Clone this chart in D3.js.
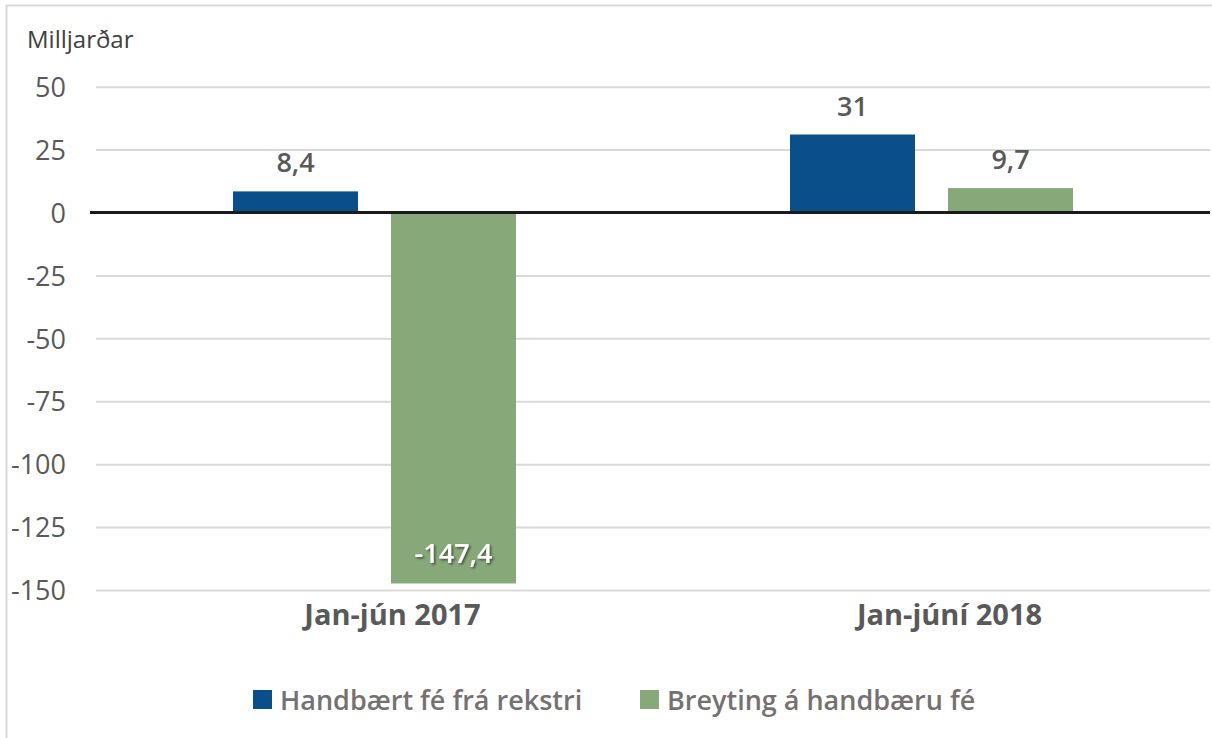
<!DOCTYPE html>
<html>
<head>
<meta charset="utf-8">
<script src="https://cdn.jsdelivr.net/npm/d3@7"></script>
<style>
  body { margin: 0; background: #fff; }
  text { font-family: "Open Sans", "Noto Sans", sans-serif; }
</style>
</head>
<body>
<svg id="chart" width="1212" height="738"></svg>
<script>
// chart values
var categories = ["Jan-jún 2017", "Jan-júní 2018"];
var seriesNames = ["Handbært fé frá rekstri", "Breyting á handbæru fé"];
var rekstur = [8.4, 31];
var breyting = [-147.4, 9.7];
var yTicks = [50, 25, 0, -25, -50, -75, -100, -125, -150];
var colors = ["#0b4f8a", "#87a878"];

var svg = d3.select("#chart");

// outer frame
svg.append("rect")
    .attr("x", 6.5).attr("y", 5.5)
    .attr("width", 1220).attr("height", 760)
    .attr("fill", "none")
    .attr("stroke", "#d9d9d9")
    .attr("stroke-width", 2);

var left = 96, right = 1210;
var y = d3.scaleLinear().domain([-150, 50]).range([590, 86.7]);
var x = d3.scaleBand().domain(categories).range([left, right]);
var xs = d3.scaleBand().domain(seriesNames).range([0, x.bandwidth()])
    .paddingInner(0.209).paddingOuter(0.867);

var fmt = function(v) { return String(v).replace(".", ","); };

// gridlines
svg.append("g")
    .attr("transform", "translate(" + left + ",0)")
    .call(d3.axisLeft(y).tickValues(yTicks).tickSize(-(right - left)).tickFormat(""))
    .call(function(g) {
        g.select(".domain").remove();
        g.selectAll("line").attr("stroke", "#d9d9d9").attr("stroke-width", 2);
    });

// tick labels
svg.append("g")
    .attr("transform", "translate(66,0)")
    .call(d3.axisLeft(y).tickValues(yTicks).tickSize(0).tickPadding(0)
        .tickFormat(function(d) { return String(d); }))
    .call(function(g) {
        g.select(".domain").remove();
        g.selectAll("text")
            .attr("fill", "#595959")
            .attr("font-size", "27px")
            .attr("dy", "0.36em");
    });

svg.append("text")
    .attr("x", 27).attr("y", 48)
    .attr("fill", "#404040")
    .attr("font-size", "24px")
    .text("Milljarðar");

var rows = categories.map(function(c, i) {
    return [
        {cat: c, name: seriesNames[0], value: rekstur[i], color: colors[0]},
        {cat: c, name: seriesNames[1], value: breyting[i], color: colors[1]}
    ];
});
var flat = [].concat.apply([], rows);

var g = svg.append("g");

g.selectAll(".bar")
    .data(flat)
    .enter().append("rect")
    .attr("class", "bar")
    .attr("x", function(d) { return x(d.cat) + xs(d.name); })
    .attr("width", xs.bandwidth())
    .attr("y", function(d) { return y(Math.max(0, d.value)); })
    .attr("height", function(d) { return Math.abs(y(d.value) - y(0)); })
    .attr("fill", function(d) { return d.color; });

// shadow filter for label inside bar
var defs = svg.append("defs");
var f = defs.append("filter").attr("id", "shadow").attr("x", "-20%").attr("y", "-20%").attr("width", "140%").attr("height", "140%");
f.append("feDropShadow").attr("dx", 1.5).attr("dy", 1.5).attr("stdDeviation", 1.2)
    .attr("flood-color", "#000").attr("flood-opacity", 0.55);

g.selectAll(".val")
    .data(flat)
    .enter().append("text")
    .attr("class", "val")
    .attr("text-anchor", "middle")
    .attr("x", function(d) { return x(d.cat) + xs(d.name) + xs.bandwidth() / 2; })
    .attr("y", function(d) { return d.value >= 0 ? y(d.value) - 19 : y(d.value) - 20; })
    .attr("font-size", "27px")
    .attr("font-weight", 600)
    .attr("fill", function(d) { return d.value >= 0 ? "#595959" : "#ffffff"; })
    .attr("filter", function(d) { return d.value >= 0 ? null : "url(#shadow)"; })
    .text(function(d) { return fmt(d.value); });

// zero line
svg.append("line")
    .attr("x1", 90).attr("x2", right)
    .attr("y1", y(0)).attr("y2", y(0))
    .attr("stroke", "#1a1a1a")
    .attr("stroke-width", 3);

// category axis labels
svg.append("g")
    .attr("transform", "translate(0,590)")
    .call(d3.axisBottom(x).tickSize(0).tickPadding(0))
    .call(function(g) {
        g.select(".domain").remove();
        g.selectAll("text")
            .attr("dx", 18)
            .attr("dy", 0)
            .attr("y", 35)
            .attr("fill", "#595959")
            .attr("font-size", "29px")
            .attr("font-weight", 700);
    });

// legend
var legend = svg.append("g").attr("transform", "translate(0,700)");
var lx = [253, 640];
seriesNames.forEach(function(n, i) {
    legend.append("rect")
        .attr("x", lx[i]).attr("y", -10)
        .attr("width", 19).attr("height", 19)
        .attr("fill", colors[i]);
    legend.append("text")
        .attr("x", lx[i] + 27).attr("y", 0)
        .attr("dy", "0.36em")
        .attr("fill", "#767171")
        .attr("font-size", "27px")
        .attr("font-weight", 600)
        .text(n);
});
</script>
</body>
</html>
